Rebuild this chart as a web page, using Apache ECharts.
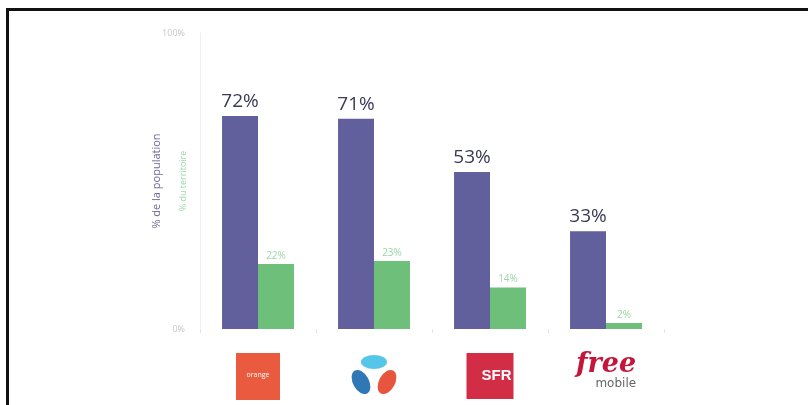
<!DOCTYPE html>
<html>
<head>
<meta charset="utf-8">
<script src="https://cdn.jsdelivr.net/npm/echarts@6/dist/echarts.min.js"></script>
<style>
  html, body { margin: 0; padding: 0; background: #fff; }
  #main { width: 808px; height: 405px; }
  .frame {
    position: absolute; left: 6px; top: 8px; width: 820px; height: 394px;
    border-top: 3px solid #111; border-left: 3px solid #111;
    border-bottom: 1px solid #ccc; pointer-events: none;
  }
</style>
</head>
<body>
<div id="main"></div>
<div class="frame"></div>
<script>
// operateurs
const operators = ["Orange", "Bouygues Telecom", "SFR", "Free Mobile"];
// % de la population couverte
const population = [72, 71, 53, 33];
// % du territoire couvert
const territoire = [22, 23, 14, 2];
const yTicks = [0, 100];

// logo bouygues en svg (trois ellipses)
const bytSvg =
  '<svg xmlns="http://www.w3.org/2000/svg" width="48" height="46" viewBox="0 0 48 46">' +
  '<ellipse cx="24" cy="9" rx="13" ry="7" fill="#55c6ea"/>' +
  '<ellipse cx="11" cy="29" rx="8" ry="13" transform="rotate(-28 11 29)" fill="#2f78b5"/>' +
  '<ellipse cx="37" cy="29" rx="8" ry="13" transform="rotate(28 37 29)" fill="#e8553e"/>' +
  '</svg>';
const bytImg = "data:image/svg+xml;charset=utf-8," + encodeURIComponent(bytSvg);

const chart = echarts.init(document.getElementById("main"));

const option = {
  animation: false,
  textStyle: { fontFamily: "Open Sans, sans-serif" },
  grid: { left: 200, right: 144, top: 33, bottom: 76 },
  xAxis: {
    type: "category",
    data: operators,
    axisLine: { show: false },
    axisTick: { show: true, length: 4, lineStyle: { color: "#e4e4e4" } },
    axisLabel: {
      margin: 24,
      interval: 0,
      formatter: (v, i) => {
        if (i === 0) return "{org|orange}";
        if (i === 1) return "{byt|}";
        if (i === 2) return "{sfr|SFR}";
        return "{free|free}\n{mob|mobile}";
      },
      rich: {
        org: {
          backgroundColor: "#e95a3e", color: "#fff", fontSize: 7,
          width: 44, height: 44, align: "center", verticalAlign: "bottom",
          padding: [0, 0, 3, 0]
        },
        byt: {
          backgroundColor: { image: bytImg }, width: 48, height: 46
        },
        sfr: {
          backgroundColor: "#d32c45", color: "#fff", fontSize: 15, fontWeight: "bold",
          width: 45, height: 46, align: "right", padding: [0, 2, 0, 0],
          fontFamily: "Liberation Sans"
        },
        free: {
          color: "#c4163a", fontSize: 27, fontStyle: "italic", fontWeight: "bold",
          fontFamily: "DejaVu Serif", lineHeight: 24, align: "center"
        },
        mob: {
          color: "#666", fontSize: 12, lineHeight: 14, align: "right",
          fontFamily: "DejaVu Sans"
        }
      }
    }
  },
  yAxis: {
    type: "value",
    min: yTicks[0],
    max: yTicks[1],
    interval: 100,
    name: "{a|% de la population}\n{b|% du territoire}",
    nameLocation: "middle",
    nameRotate: 90,
    nameGap: 4,
    nameMoveOverlap: false,
    nameTextStyle: {
      rich: {
        a: { color: "#6a6a9a", fontSize: 11, lineHeight: 26 },
        b: { color: "#9fd6a8", fontSize: 9, lineHeight: 26 }
      }
    },
    axisLine: { show: true, lineStyle: { color: "#eeeeee" } },
    axisTick: { show: false },
    splitLine: { show: false },
    axisLabel: { formatter: "{value}%", color: "#c8c8c8", fontSize: 9, margin: 15 }
  },
  series: [
    {
      name: "% de la population",
      type: "bar",
      data: population,
      barGap: "0%",
      barCategoryGap: "38%",
      itemStyle: { color: "#62609c" },
      label: {
        show: true, position: "top", distance: 5,
        formatter: "{c}%", color: "#3a3a55", fontSize: 19
      }
    },
    {
      name: "% du territoire",
      type: "bar",
      data: territoire,
      itemStyle: { color: "#6dbf7a" },
      label: {
        show: true, position: "top", distance: 3,
        formatter: "{c}%", color: "#9ad6a4", fontSize: 10
      }
    }
  ]
};

chart.setOption(option);
</script>
</body>
</html>
